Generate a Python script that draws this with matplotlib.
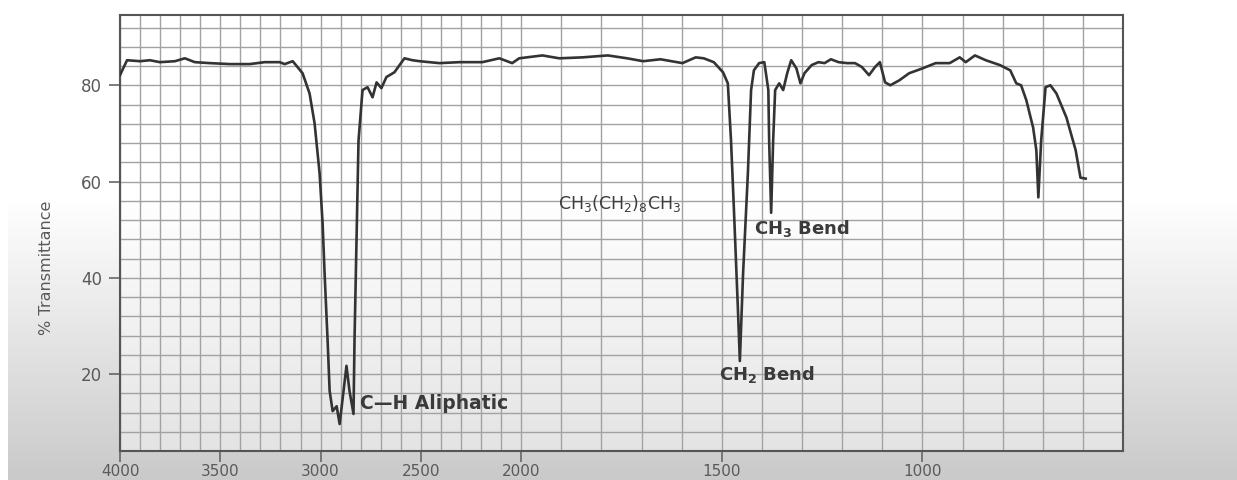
import numpy as np
import matplotlib
matplotlib.use("Agg")
import matplotlib.pyplot as plt
from matplotlib.ticker import FixedLocator, MultipleLocator

# ---------------- data ----------------
wavenumber = [4000, 3965, 3900, 3851, 3801, 3726, 3677, 3627, 3552, 3453, 3353, 3279,
              3204, 3179, 3139, 3090, 3055, 3030, 3005, 2990, 2980, 2965, 2955, 2940,
              2920, 2905, 2871, 2856, 2836, 2831, 2821, 2811, 2791, 2766, 2741, 2721,
              2697, 2672, 2632, 2582, 2542, 2507, 2408, 2308, 2194, 2109, 2045, 2010,
              1947, 1905, 1847, 1784, 1736, 1696, 1653, 1598, 1565, 1545, 1520, 1497,
              1485, 1477, 1470, 1460, 1455, 1447, 1435, 1427, 1420, 1407, 1394, 1384,
              1382, 1377, 1372, 1367, 1357, 1347, 1337, 1327, 1314, 1304, 1294, 1276,
              1259, 1244, 1228, 1209, 1188, 1168, 1151, 1133, 1118, 1106, 1093, 1080,
              1058, 1033, 1000, 967, 932, 907, 892, 869, 842, 807, 781, 766, 754, 741,
              724, 716, 711, 704, 693, 681, 666, 641, 618, 606, 593]
transmittance = [82.1, 85.2, 85.0, 85.2, 84.8, 85.0, 85.6, 84.8, 84.6, 84.4, 84.4, 84.8,
                 84.8, 84.4, 85.0, 82.5, 78.3, 72.1, 61.7, 51.3, 40.8, 26.9, 16.5, 12.3,
                 13.3, 9.6, 21.7, 16.5, 11.7, 26.9, 47.7, 68.5, 79.0, 79.6, 77.5, 80.6,
                 79.4, 81.7, 82.7, 85.6, 85.2, 85.0, 84.6, 84.8, 84.8, 85.6, 84.6, 85.6,
                 86.2, 85.6, 85.8, 86.2, 85.6, 85.0, 85.4, 84.6, 85.8, 85.6, 84.8, 82.7,
                 80.4, 68.5, 54.6, 33.8, 22.7, 40.8, 61.7, 79.0, 83.1, 84.6, 84.8, 79.0,
                 68.5, 53.5, 68.5, 79.0, 80.4, 79.0, 82.5, 85.2, 83.5, 80.4, 82.5, 84.2,
                 84.8, 84.6, 85.4, 84.8, 84.6, 84.6, 83.8, 82.1, 83.8, 84.8, 80.6, 80.0,
                 81.0, 82.5, 83.5, 84.6, 84.6, 85.8, 84.8, 86.2, 85.2, 84.2, 83.1, 80.4,
                 80.0, 76.9, 71.2, 66.5, 56.7, 68.5, 79.6, 80.0, 78.3, 73.3, 66.5, 60.8,
                 60.6]

x_ticks = [4000, 3500, 3000, 2500, 2000, 1500, 1000]
y_ticks = [20, 40, 60, 80]

label_texts = ["C\u2014H Aliphatic", r"CH$_3$(CH$_2$)$_8$CH$_3$",
               r"CH$_\mathbf{3}$ Bend", r"CH$_\mathbf{2}$ Bend"]
label_wn = [2806, 1754, 1420, 1508]
label_t = [13.8, 55.4, 50.2, 20.0]

# ---------------- figure ----------------
W, H = 1237, 480
fig = plt.figure(figsize=(W / 100, H / 100), dpi=100)
plt.rcParams["mathtext.fontset"] = "dejavusans"

# background shading (video overlay look)
rows = np.arange(H)[:, None]
cols = np.arange(W)[None, :]
ramp = np.clip((rows - 200) / 280.0, 0, 1)
ax_l, ax_r, ax_t, ax_b = 120, 1123, 15, 451
inside = (cols >= ax_l) & (cols <= ax_r) & (rows >= ax_t) & (rows <= ax_b)
shade = np.where(inside, 1 - 0.12 * ramp, 1 - 0.21 * ramp)
shade = np.where(cols < 8, 1.0, shade)
bg = fig.add_axes([0, 0, 1, 1], zorder=-10)
bg.imshow(np.dstack([shade] * 3), aspect="auto", interpolation="bilinear")
bg.axis("off")

ax = fig.add_axes([ax_l / W, 1 - ax_b / H, (ax_r - ax_l) / W, (ax_b - ax_t) / H])
ax.set_facecolor("none")


def fwd(x):
    x = np.asarray(x, dtype=float)
    return np.where(x <= 2000, x, 2000 + (x - 2000) / 2.0)


def inv(u):
    u = np.asarray(u, dtype=float)
    return np.where(u <= 2000, u, 2000 + (u - 2000) * 2.0)


ax.set_xscale("function", functions=(fwd, inv))
ax.plot(wavenumber, transmittance, color="#333333", lw=1.9, zorder=5,
        solid_joinstyle="round")
ax.set_xlim(4000, 500)
ax.set_ylim(4, 94.6)

ax.xaxis.set_major_locator(FixedLocator(x_ticks))
ax.xaxis.set_minor_locator(MultipleLocator(100))
ax.yaxis.set_major_locator(FixedLocator(y_ticks))
ax.yaxis.set_minor_locator(MultipleLocator(4))
ax.set_xticklabels([str(t) for t in x_ticks])
ax.set_yticklabels([str(t) for t in y_ticks])

ax.grid(True, which="both", color="#a2a2a2", lw=1.0, zorder=1)
ax.set_axisbelow(True)
ax.tick_params(which="minor", length=0)
ax.tick_params(which="major", direction="out", length=8, width=1.2,
               color="#666666", labelcolor="#5a5a5a", labelsize=12)
ax.tick_params(axis="x", pad=1, labelsize=11)
ax.tick_params(axis="y", pad=5)
for s in ax.spines.values():
    s.set_color("#555555")
    s.set_linewidth(1.5)

ax.set_ylabel("% Transmittance", fontsize=11.5, color="#5a5a5a")
ax.yaxis.set_label_coords(-0.066, 0.42)

ax.text(label_wn[0], label_t[0], label_texts[0], fontsize=13.5, fontweight="bold",
        color="#3a3a3a", ha="left", va="center", zorder=6)
ax.text(label_wn[1], label_t[1], label_texts[1], fontsize=12.5, color="#3a3a3a",
        ha="center", va="center", zorder=6)
ax.text(label_wn[2], label_t[2], label_texts[2], fontsize=13, fontweight="bold",
        color="#3a3a3a", ha="left", va="center", zorder=6)
ax.text(label_wn[3], label_t[3], label_texts[3], fontsize=13, fontweight="bold",
        color="#3a3a3a", ha="left", va="center", zorder=6)

fig.savefig("out.png", dpi=100)
